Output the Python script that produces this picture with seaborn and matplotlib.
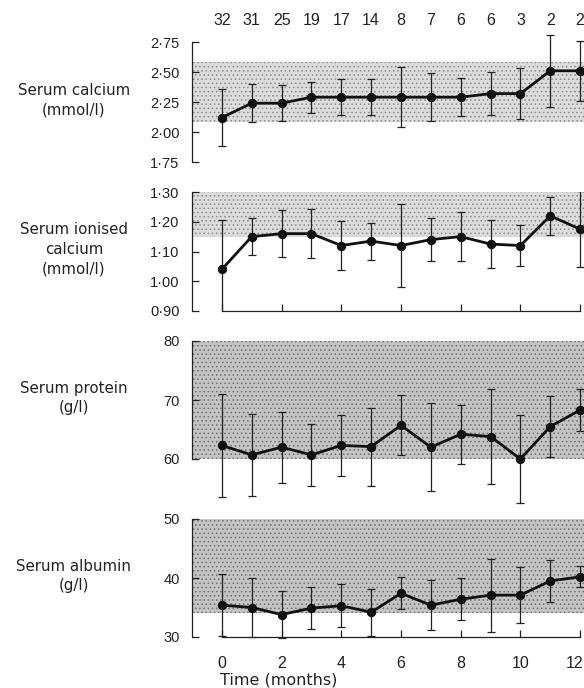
import matplotlib
matplotlib.use("Agg")
import matplotlib.pyplot as plt
import matplotlib.transforms as mtransforms
import seaborn as sns
import pandas as pd

# Months after start of treatment and number of patients at each visit
months = list(range(13))
patients = [32, 31, 25, 19, 17, 14, 8, 7, 6, 6, 3, 2, 2]

# Serum calcium (mmol/l): mean and SD
ca_mean = [2.12, 2.24, 2.24, 2.29, 2.29, 2.29, 2.29, 2.29, 2.29, 2.32, 2.32, 2.51, 2.51]
ca_sd = [0.24, 0.16, 0.15, 0.13, 0.15, 0.15, 0.25, 0.20, 0.16, 0.18, 0.21, 0.30, 0.25]

# Serum ionised calcium (mmol/l)
ica_mean = [1.04, 1.15, 1.16, 1.16, 1.12, 1.135, 1.12, 1.14, 1.15, 1.125, 1.12, 1.22, 1.175]
ica_sd = [0.165, 0.063, 0.08, 0.083, 0.082, 0.062, 0.14, 0.072, 0.083, 0.08, 0.07, 0.063, 0.127]

# Serum protein (g/l)
prot_mean = [62.3, 60.7, 62.0, 60.7, 62.3, 62.1, 65.7, 62.0, 64.2, 63.8, 60.0, 65.5, 68.3]
prot_sd = [8.7, 6.9, 6.0, 5.2, 5.1, 6.6, 5.1, 7.5, 5.0, 8.1, 7.5, 5.2, 3.5]

# Serum albumin (g/l)
alb_mean = [35.4, 35.0, 33.8, 34.9, 35.3, 34.2, 37.4, 35.4, 36.4, 37.1, 37.1, 39.5, 40.2]
alb_sd = [5.2, 5.0, 4.0, 3.6, 3.6, 4.0, 2.7, 4.2, 3.6, 6.2, 4.7, 3.5, 1.8]

# Normal reference ranges (shaded)
ca_range = (2.08, 2.58)
ica_range = (1.15, 1.30)
prot_range = (60, 80)
alb_range = (34, 50)

ca_ticks = [1.75, 2.00, 2.25, 2.50, 2.75]
ica_ticks = [0.90, 1.00, 1.10, 1.20, 1.30]
prot_ticks = [60, 70, 80]
alb_ticks = [30, 40, 50]
x_ticks = [0, 2, 4, 6, 8, 10, 12]

labels = ["Serum calcium\n(mmol/l)",
          "Serum ionised\ncalcium\n(mmol/l)",
          "Serum protein\n(g/l)",
          "Serum albumin\n(g/l)"]

sns.set_style("ticks")
plt.rcParams["font.family"] = ["DejaVu Sans"]
plt.rcParams["hatch.linewidth"] = 0.6

INK = "#222222"
NUM_FONT = ["Liberation Sans", "DejaVu Sans"]

W, H = 584, 688
fig = plt.figure(figsize=(W / 100, H / 100), dpi=100)

# panel extents in pixels: (top, bottom)
rows = [(42, 162), (192, 311), (341, 459), (519, 637)]
left_px, right_px = 192, 584


def dotted(v):
    return f"{v:.2f}".replace(".", "\u00b7")


def plain(v):
    return f"{v:.0f}"


panels = [
    (ca_mean, ca_sd, ca_range, ca_ticks, dotted, "#dcdcdc", "#8a8a8a", False),
    (ica_mean, ica_sd, ica_range, ica_ticks, dotted, "#dcdcdc", "#8a8a8a", True),
    (prot_mean, prot_sd, prot_range, prot_ticks, plain, "#c4c4c4", "#6e6e6e", False),
    (alb_mean, alb_sd, alb_range, alb_ticks, plain, "#c4c4c4", "#6e6e6e", True),
]

for i, ((top, bot), (mean, sd, rng, yt, fmt, bandc, dotc, has_x), lab) in enumerate(
        zip(rows, panels, labels)):
    ax = fig.add_axes([left_px / W, 1 - bot / H, (right_px - left_px) / W, (bot - top) / H])
    ax.set_facecolor("none")
    ax.axhspan(rng[0], rng[1], xmin=0.0, xmax=1.0, facecolor=bandc,
               edgecolor=dotc, hatch="....", linewidth=0, zorder=0)

    df = pd.DataFrame({"month": months, "mean": mean, "sd": sd})
    ax.errorbar(df["month"], df["mean"], yerr=df["sd"], fmt="none", ecolor=INK,
                elinewidth=0.9, capsize=3.2, capthick=0.9, zorder=2, clip_on=(i == 1))
    sns.lineplot(data=df, x="month", y="mean", ax=ax, color="#111111", linewidth=2.0,
                 marker="o", markersize=6, markeredgecolor="#111111", zorder=3,
                 clip_on=False)

    ax.set_xlim(-1, 12.13)
    ax.set_ylim(yt[0], yt[-1])
    ax.set_yticks(yt)
    ax.set_yticklabels([fmt(v) for v in yt], family=NUM_FONT, fontsize=10.5)
    ax.tick_params(axis="y", direction="in", length=5, width=0.9, pad=9, colors=INK)
    ax.spines["top"].set_visible(False)
    ax.spines["right"].set_visible(False)
    ax.spines["left"].set_linewidth(0.9)
    ax.spines["left"].set_color(INK)
    ax.set_xlabel("")
    ax.set_ylabel("")

    if has_x:
        ax.spines["bottom"].set_bounds(0, 12)
        ax.spines["bottom"].set_linewidth(0.9)
        ax.spines["bottom"].set_color(INK)
        ax.set_xticks(x_ticks)
        ax.tick_params(axis="x", direction="in", length=5, width=0.9, pad=14, colors=INK)
        if i == 3:
            ax.set_xticklabels([str(v) for v in x_ticks], family=NUM_FONT, fontsize=11.5)
            # keep the last label inside the figure edge
            last = ax.get_xticklabels()[-1]
            last.set_transform(last.get_transform() +
                               mtransforms.ScaledTranslation(-4 / 72, 0, fig.dpi_scale_trans))
            ax.set_xlabel("Time (months)", fontsize=11.5, color=INK, ha="left", va="center")
            ax.xaxis.set_label_coords(28 / (right_px - left_px), -43 / (bot - top))
        else:
            ax.set_xticklabels([])
    else:
        ax.spines["bottom"].set_visible(False)
        ax.set_xticks([])

    if i == 0:
        for m, n in zip(months, patients):
            ax.annotate(str(n), xy=(m, 1), xycoords=("data", "axes fraction"),
                        xytext=(0, 10), textcoords="offset points", ha="center",
                        va="bottom", fontsize=11.5, color=INK, family=NUM_FONT)

    fig.text(74 / W, 1 - ((top + bot) / 2 - 2) / H, lab, ha="center", va="center",
             fontsize=10.8, color=INK, linespacing=1.4)

fig.savefig("out.png", dpi=100)
